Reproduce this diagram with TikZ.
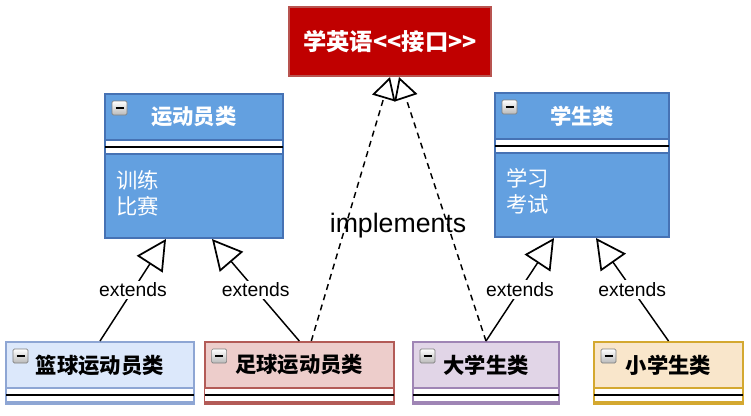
\documentclass[tikz,border=0pt]{standalone}
\usepackage{fontspec}
\setmainfont{Liberation Sans}
\newfontfamily\cjk{Noto Sans CJK SC}
\usepackage{xcolor}
\usetikzlibrary{arrows.meta}
\usetikzlibrary{positioning,calc}

\definecolor{ifacefill}{HTML}{C00000}
\definecolor{ifaceline}{HTML}{B85450}
\definecolor{bigfill}{HTML}{63A0E0}
\definecolor{bigline}{HTML}{4672B4}
\definecolor{lanfill}{HTML}{DCE8FB}
\definecolor{lanline}{HTML}{8EA6D4}
\definecolor{zufill}{HTML}{EDCDCB}
\definecolor{zuline}{HTML}{B35B57}
\definecolor{dafill}{HTML}{E1D5E7}
\definecolor{daline}{HTML}{9F85B5}
\definecolor{xiaofill}{HTML}{F9E6CB}
\definecolor{xiaoline}{HTML}{D4A830}

\begin{document}
\begin{tikzpicture}[
  x=0.75pt, y=-0.75pt,
  every node/.style={inner sep=0pt},
  cls/.style={rectangle,draw,line width=1.5pt},
  title/.style={font=\cjk\bfseries\fontsize{16}{19}\selectfont},
  body/.style={font=\cjk\fontsize{16}{19.5}\selectfont,text=white,align=left,anchor=west},
  lbl/.style={fill=white,inner sep=1.5pt,font=\fontsize{14.5}{17}\selectfont},
  ext/.style={draw,line width=1.1pt,-{Triangle[open,length=22.5pt,width=23pt,line width=1.3pt]}},
  impl/.style={draw,line width=1.1pt,dash pattern=on 4.5pt off 3.5pt,-{Triangle[open,length=16.5pt,width=18pt,line width=1.3pt]}},
]
\useasboundingbox (0,0) rectangle (751,415);
% interface
\node[cls,fill=ifacefill,draw=ifaceline,minimum width=151.5pt,minimum height=51.75pt,
  font=\cjk\bfseries\fontsize{17.5}{21}\selectfont,text=white] (iface) at (390,41.5) {学英语<<接口>>};
% parent classes
\node[cls,fill=bigfill,draw=bigline,minimum width=133.5pt,minimum height=108pt] (ath) at (194,166) {};
\node[cls,fill=bigfill,draw=bigline,minimum width=130.5pt,minimum height=108pt] (stu) at (582,165) {};
% child classes
\node[cls,fill=lanfill,draw=lanline,minimum width=141pt,minimum height=46.125pt] (lan) at (100,372.75) {};
\node[cls,fill=zufill,draw=zuline,minimum width=142pt,minimum height=46.125pt] (zu) at (299.3,372.75) {};
\node[cls,fill=dafill,draw=daline,minimum width=109.5pt,minimum height=46.125pt] (da) at (486,372.75) {};
\node[cls,fill=xiaofill,draw=xiaoline,minimum width=111.75pt,minimum height=46.125pt] (xiao) at (668.5,372.75) {};
% bands, icons, titles
\foreach \n/\t/\c/\l in {ath/运动员类/white/bigline, stu/学生类/white/bigline,
    lan/篮球运动员类/black/lanline, zu/足球运动员类/black/zuline,
    da/大学生类/black/daline, xiao/小学生类/black/xiaoline} {
  \draw[fill=white,draw=\l,line width=0.8pt] ($(\n.north west)+(1,47)$) rectangle ($(\n.north east)+(-1,61)$);
  \draw[line width=1.2pt] ($(\n.north west)+(1,54)$) -- ($(\n.north east)+(-1,54)$);
  \shade[top color=white,bottom color=gray!55,draw=gray,line width=0.5pt,rounded corners=1pt]
    ($(\n.north west)+(8,8)$) rectangle ($(\n.north west)+(23,22)$);
  \draw[line width=1.3pt] ($(\n.north west)+(11.5,15)$) -- ($(\n.north west)+(19.5,15)$);
  \node[title,text=\c] (\n-t) at ($(\n.north)+(0,24)$) {\t};
}
\node[body] (ath-b) at (116,193) {训练\\比赛};
\node[body] (stu-b) at (506,191) {学习\\考试};
% connectors
\draw[ext] (lan.north) -- node[lbl]{extends} ($(ath.south)+(-28,0)$);
\draw[ext] (zu.north) -- node[lbl]{extends} ($(ath.south)+(18,0)$);
\draw[ext] (da.north) -- node[lbl]{extends} ($(stu.south)+(-28,0)$);
\draw[ext] (xiao.north) -- node[lbl]{extends} ($(stu.south)+(14,0)$);
\draw[impl] ($(zu.north)+(12,0)$) -- ($(iface.south)+(0,0)$);
\draw[impl] (da.north) -- ($(iface.south)+(9,0)$);
\node[font=\fontsize{20}{24}\selectfont] (impl) at (398,226) {implements};
\end{tikzpicture}
\end{document}
